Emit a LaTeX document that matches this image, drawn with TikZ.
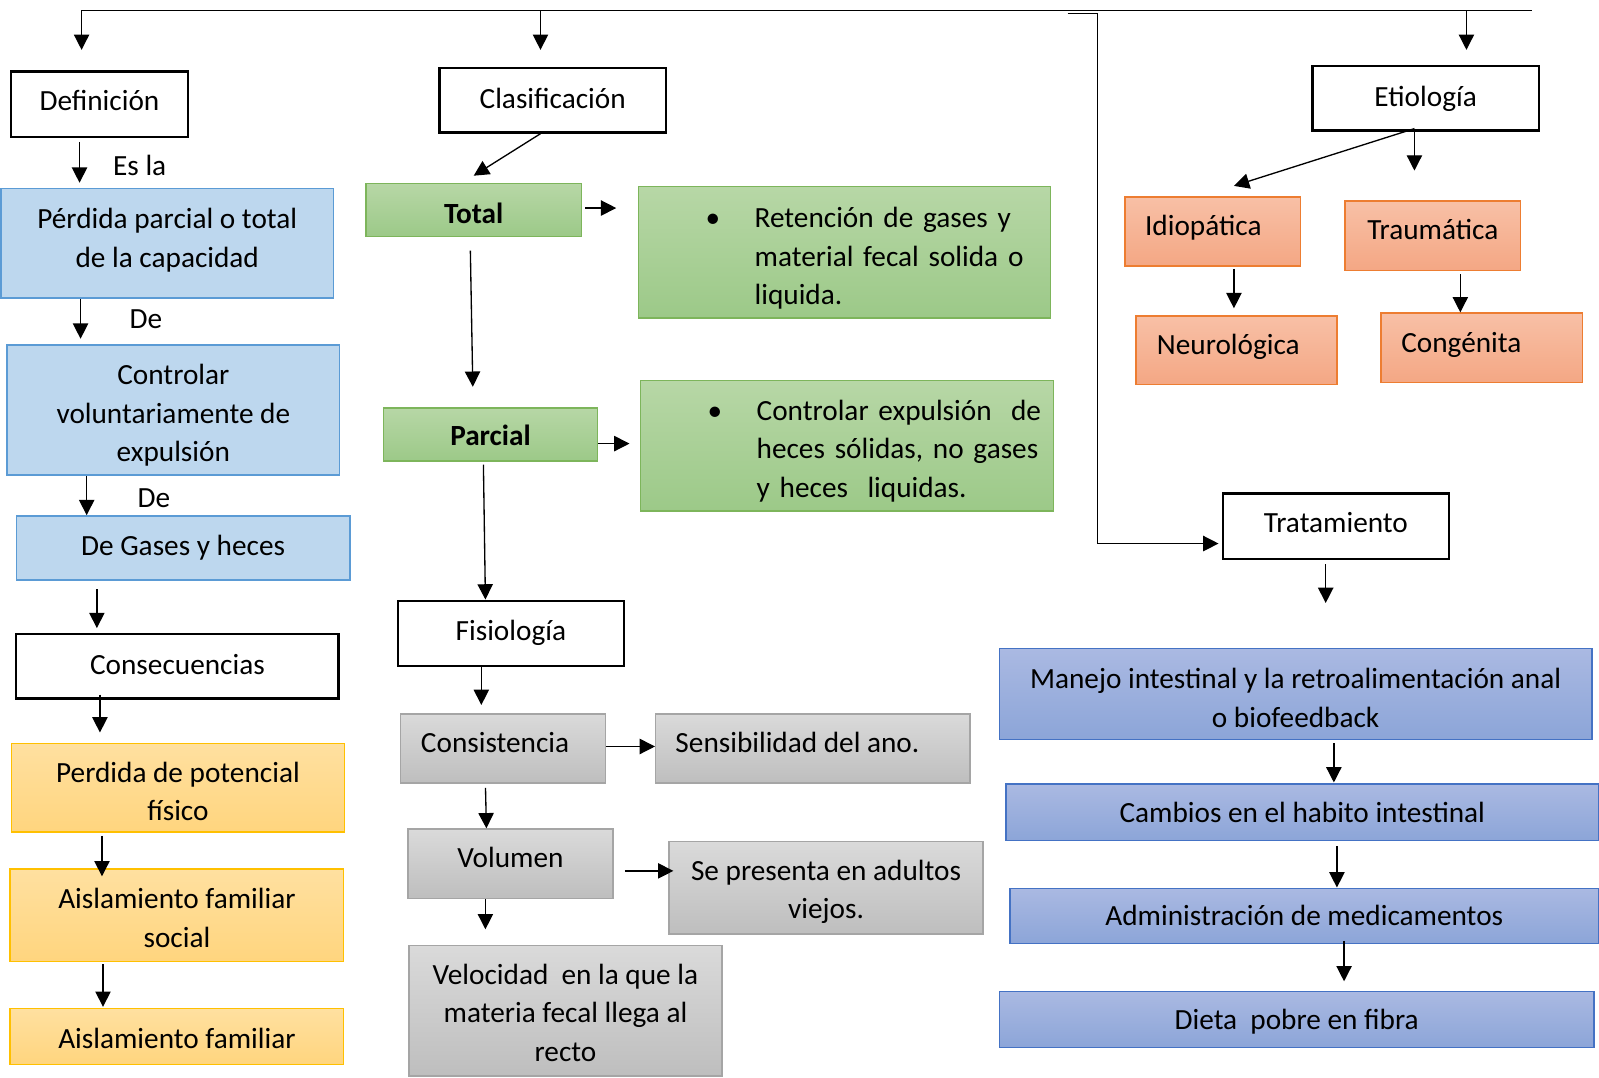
\documentclass[tikz,border=0pt]{standalone}
\usepackage{fontspec}
\setmainfont{Carlito}
\usetikzlibrary{arrows.meta}
\newcommand{\diagfont}{\fontsize{28.7pt}{38pt}\selectfont}
\tikzset{
  % connector styles
  line/.style = {
    draw = black,
    line width = 1.3pt
  },
  arr/.style = {
    line,
    -{Triangle[length=15pt,width=15pt]}
  }
}
\tikzset{
  box/.style = {
    rectangle,
    inner sep = 0pt,
    align = center,
    font = \diagfont
  },
  size/.style 2 args = {
    minimum width = #1pt,
    minimum height = #2pt
  },
  % where the text sits inside a box
  tv/.style 2 args = {
    text height = #1pt,
    text depth = #2pt
  },
  % heading boxes
  hdr/.style = {
    box,
    draw = black,
    fill = white,
    line width = 2.2pt
  },
  bluebox/.style = {
    box,
    draw = {rgb,255:red,91;green,155;blue,213},
    fill = {rgb,255:red,189;green,215;blue,238},
    line width = 1.6pt
  },
  greenbox/.style = {
    box,
    draw = {rgb,255:red,125;green,181;blue,91},
    top color = {rgb,255:red,183;green,215;blue,166},
    bottom color = {rgb,255:red,156;green,201;blue,136},
    line width = 1.4pt
  },
  salmonbox/.style = {
    box,
    draw = {rgb,255:red,237;green,125;blue,49},
    top color = {rgb,255:red,248;green,192;blue,166},
    bottom color = {rgb,255:red,244;green,167;blue,132},
    line width = 1.4pt
  },
  yellowbox/.style = {
    box,
    draw = {rgb,255:red,255;green,192;blue,0},
    top color = {rgb,255:red,255;green,224;blue,160},
    bottom color = {rgb,255:red,255;green,213;blue,126},
    line width = 1.4pt
  },
  graybox/.style = {
    box,
    draw = {rgb,255:red,165;green,165;blue,165},
    top color = {rgb,255:red,218;green,218;blue,218},
    bottom color = {rgb,255:red,190;green,190;blue,190},
    line width = 1.4pt
  },
  violetbox/.style = {
    box,
    draw = {rgb,255:red,68;green,114;blue,196},
    top color = {rgb,255:red,170;green,185;blue,226},
    bottom color = {rgb,255:red,140;green,165;blue,216},
    line width = 1.4pt
  },
  % small text beside an arrow
  lbl/.style = {
    inner sep = 0pt,
    font = \diagfont
  }
}

\begin{document}
\begin{tikzpicture}[x=1pt, y=-1pt]
  \useasboundingbox (0,0) rectangle (1568,1057);

  % left column
  \node[hdr, size={173}{64}, tv={25}{13}] (def) at (97.5,102) {Definición};
  \node[lbl] (esla) at (137,162) {Es la};
  \node[bluebox, size={326}{107}, tv={61.5}{14.5}] (perd) at (164,238.5) {Pérdida parcial o total\\de la capacidad};
  \node[lbl] (de1) at (143,313) {De};
  \node[bluebox, size={326}{128}, tv={108}{6}] (ctrl) at (170,402) {Controlar\\voluntariamente de\\expulsión};
  \node[lbl] (de2) at (151,489) {De};
  \node[bluebox, size={327}{63}, tv={26.5}{11.5}] (gases) at (179.5,537.5) {De Gases y heces};
  \node[hdr, size={316}{63}, tv={26.5}{11.5}] (cons) at (174,653.5) {Consecuencias};
  \node[yellowbox, size={327}{87}, tv={70.5}{5.5}] (pot) at (174.5,772.5) {Perdida de potencial\\físico};
  \node[yellowbox, size={327}{91}, tv={69.5}{6.5}] (aisl) at (173.5,897.5) {Aislamiento familiar\\social};
  \node[yellowbox, size={327}{55}, tv={30.5}{7.5}] (aislf) at (173.5,1016.5) {Aislamiento familiar};

  % middle column
  \node[hdr, size={222}{63}, tv={26.5}{11.5}] (clas) at (542,98.5) {Clasificación};
  \node[greenbox, size={211}{52}, tv={32}{6}] (total) at (464.5,206) {\textbf{Total}};
  \node[greenbox, size={404}{129}, tv={32.5}{81.5}, text width=404pt, align=left] (ret) at (828,247.5)
    {\hspace*{66pt}\makebox[48pt][l]{\textbullet}Retención de gases y\\
     \hspace*{114pt}material fecal solida o\\
     \hspace*{114pt}liquida.};
  \node[greenbox, size={210}{52}, tv={30}{8}] (parc) at (481,426) {\textbf{Parcial}};
  \node[greenbox, size={405}{128}, tv={32}{82}, text width=405pt, align=left] (cexp) at (830.5,437)
    {\hspace*{66pt}\makebox[48pt][l]{\textbullet}Controlar expulsión~ de\\
     \hspace*{114pt}heces sólidas, no gases\\
     \hspace*{114pt}y heces~ liquidas.};
  \node[hdr, size={222}{64}, tv={26}{12}] (fis) at (501,621) {Fisiología};
  \node[graybox, size={201}{68}, tv={23}{15}] (consis) at (493.5,734) {Consistencia\hspace*{16pt}};
  \node[graybox, size={308}{68}, tv={23}{15}] (sens) at (797,734) {Sensibilidad del ano.\hspace*{30pt}};
  \node[graybox, size={201}{68}, tv={23}{15}] (vol) at (500.5,847) {Volumen};
  \node[graybox, size={308}{91}, tv={68.5}{7.5}] (sepres) at (810,870.5) {Se presenta en adultos\\viejos.};
  \node[graybox, size={307}{128}, tv={107}{7}] (vel) at (554.5,991) {Velocidad~ en la que la\\materia fecal llega al\\recto};

  % right column
  \node[hdr, size={222}{63}, tv={26.5}{11.5}] (etio) at (1398,96.5) {Etiología};
  \node[salmonbox, size={172}{68}, tv={23}{15}] (idio) at (1189,227) {Idiopática\hspace*{18pt}};
  \node[salmonbox, size={172}{68}, tv={23}{15}] (trau) at (1405,231) {Traumática};
  \node[salmonbox, size={197}{67}, tv={23.5}{14.5}] (neuro) at (1212.5,343.5) {Neurológica\hspace*{16pt}};
  \node[salmonbox, size={198}{68}, tv={24}{14}] (cong) at (1453,341) {Congénita\hspace*{40pt}};
  \node[hdr, size={222}{64}, tv={25}{13}] (trat) at (1310,516) {Tratamiento};
  \node[violetbox, size={581}{89}, tv={70.5}{5.5}] (manejo) at (1270.5,680.5) {Manejo intestinal y la retroalimentación anal\\o biofeedback};
  \node[violetbox, size={581}{55}, tv={29.5}{8.5}] (cambios) at (1277,796.5) {Cambios en el habito intestinal};
  \node[violetbox, size={577}{54}, tv={29}{9}] (admin) at (1279,898) {Administración de medicamentos};
  \node[violetbox, size={583}{55}, tv={29.5}{8.5}] (dieta) at (1271.5,999.5) {Dieta~ pobre en fibra};

  % top rail
  \coordinate (topL) at (80,10);
  \coordinate (topM) at (530,10);
  \coordinate (topE) at (1438,10);
  \coordinate (topR) at (1502,10);
  \coordinate (brk) at (1047,13);
  \draw[line] (topL) -- (topR);
  \draw[arr, shorten >=20pt] (topL) -- (def.north -| topL);
  \draw[arr, shorten >=17pt] (topM) -- (clas.north -| topM);
  \draw[arr, shorten >=15pt] (topE) -- (etio.north -| topE);
  \draw[arr, shorten >=3pt] (brk) -- ++(29,0) |- ([yshift=-17pt]trat.west);

  % left column arrows
  \draw[arr, shorten <=4pt, shorten >=5pt] ([xshift=-19.5pt]def.south) -- ([xshift=-86pt]perd.north);
  \draw[arr, shorten >=5pt] ([xshift=-85pt]perd.south) -- ([xshift=-91pt]ctrl.north);
  \draw[arr] ([xshift=-85pt]ctrl.south) -- ([xshift=-94.5pt]gases.north);
  \draw[arr, shorten <=8pt, shorten >=5pt] ([xshift=-84.5pt]gases.south) -- ([xshift=-79pt]cons.north);
  \draw[arr, shorten >=10pt] ([xshift=-76pt,yshift=5pt]cons.south) -- ([xshift=-76.5pt]pot.north);
  \draw[arr, shorten <=3pt] ([xshift=-74.5pt]pot.south) -- ([xshift=-73.5pt,yshift=-8pt]aisl.north);
  \draw[arr, shorten <=2pt] ([xshift=-72.5pt]aisl.south) -- ([xshift=-72.5pt,yshift=1pt]aislf.north);

  % middle column arrows
  \draw[arr] ([xshift=-12pt]clas.south) -- ([yshift=7pt]total.north);
  \draw[arr, shorten <=3pt, shorten >=21pt] ([yshift=2pt]total.east) -- ([yshift=43.5pt]ret.west);
  \draw[arr, shorten <=13pt, shorten >=20pt] ([xshift=-3.5pt]total.south) -- ([xshift=-17pt]parc.north);
  \draw[arr, shorten >=10pt] ([yshift=-9pt]parc.east) -- ([yshift=2pt]cexp.west);
  \draw[arr, shorten <=3pt] ([xshift=-7pt]parc.south) -- ([xshift=-25pt]fis.north);
  \draw[arr, shorten >=8pt] ([xshift=-29pt]fis.south) -- ([xshift=-21.5pt]consis.north);
  \draw[arr] ([yshift=2pt]consis.east) -- ([yshift=2pt]sens.west);
  \draw[arr, shorten <=4pt] ([xshift=-17.5pt]consis.south) -- ([xshift=-23.5pt]vol.north);
  \draw[arr, shorten <=11pt, shorten >=-5pt] ([yshift=-7pt]vol.east) -- ([yshift=16.5pt]sepres.west);
  \draw[arr, shorten >=15pt] ([xshift=-24.5pt]vol.south) -- ([xshift=-78.5pt]vel.north);

  % right column arrows
  \draw[arr] ([xshift=-11pt,yshift=3pt]etio.south) -- ([xshift=21pt,yshift=10pt]idio.north);
  \draw[arr, shorten >=29pt] ([xshift=-11pt]etio.south) -- ([xshift=-18pt]trau.north);
  \draw[arr, shorten <=2pt, shorten >=7pt] ([xshift=21pt]idio.south) -- ([xshift=-2.5pt]neuro.north);
  \draw[arr, shorten <=3pt] ([xshift=27pt]trau.south) -- ([xshift=-21pt]cong.north);
  \draw[arr, shorten <=4pt, shorten >=44pt] ([xshift=-10pt]trat.south) -- ([xshift=29.5pt]manejo.north);
  \draw[arr, shorten <=3pt, shorten >=1pt] ([xshift=37.5pt]manejo.south) -- ([xshift=31pt]cambios.north);
  \draw[arr, shorten <=5pt] ([xshift=34pt]cambios.south) -- ([xshift=32pt]admin.north);
  \draw[arr, shorten >=9pt] ([xshift=39pt,yshift=3pt]admin.south) -- ([xshift=46.5pt]dieta.north);
\end{tikzpicture}
\end{document}
